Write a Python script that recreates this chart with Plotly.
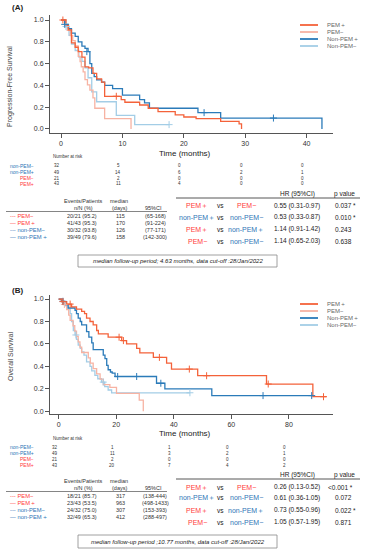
import plotly.graph_objects as go

W, H = 365, 550
def px(x): return x / W
def py(y): return 1 - y / H

FONT = "Liberation Sans, Arial, sans-serif"
C_PP = "#f4623a"   # PEM+
C_PM = "#f7b3a3"   # PEM-
C_NP = "#2b7bb9"   # non-PEM+
C_NM = "#a3cde6"   # non-PEM-
RED = "#ff3b3b"
BLUE = "#2e75b6"

# ---------------- Panel A: progression-free survival ----------------
pfs_pemp_t = [0, 0.8, 1.2, 1.7, 2.3, 2.8, 3.4, 3.9, 4.5, 5.2, 5.8, 6.6, 7.1, 9.8, 10.4, 12.8, 14.2, 15.8, 18.6, 20.0, 22.0, 26.0, 29.0, 29.4]
pfs_pemp_s = [1.0, 0.95, 0.91, 0.79, 0.75, 0.71, 0.66, 0.57, 0.56, 0.51, 0.46, 0.43, 0.30, 0.27, 0.245, 0.22, 0.19, 0.16, 0.13, 0.11, 0.095, 0.07, 0.047, 0.0]
pfs_pemm_t = [0, 0.6, 1.0, 1.5, 1.9, 2.3, 2.8, 3.1, 3.3, 3.6, 3.9, 4.3, 4.7, 5.2, 5.5, 7.1, 11.4]
pfs_pemm_s = [1.0, 0.952, 0.905, 0.857, 0.810, 0.762, 0.667, 0.619, 0.571, 0.524, 0.452, 0.405, 0.357, 0.286, 0.190, 0.095, 0.0]
pfs_npp_t = [0, 0.6, 1.2, 1.7, 2.3, 2.8, 3.4, 3.9, 4.4, 4.7, 5.0, 5.4, 5.8, 6.6, 7.1, 8.4, 10.0, 12.8, 13.6, 14.4, 22.3, 26.0, 42.5]
pfs_npp_s = [1.0, 0.96, 0.92, 0.88, 0.85, 0.80, 0.76, 0.74, 0.71, 0.60, 0.51, 0.48, 0.45, 0.43, 0.40, 0.37, 0.31, 0.27, 0.24, 0.19, 0.15, 0.10, 0.0]
pfs_npm_t = [0, 0.8, 1.3, 1.7, 2.3, 2.9, 3.4, 3.9, 4.4, 5.0, 5.8, 9.0, 12.0, 17.6]
pfs_npm_s = [1.0, 0.94, 0.86, 0.78, 0.72, 0.66, 0.62, 0.56, 0.47, 0.34, 0.25, 0.125, 0.04, 0.04]
pfs_cens_npp_t = [0.6, 4.2, 23.3, 34.6]
pfs_cens_npp_s = [0.96, 0.71, 0.15, 0.10]
pfs_cens_pemp_t = [0.3, 9.0]
pfs_cens_pemp_s = [1.0, 0.30]
pfs_cens_npm_t = [0.8, 17.6]
pfs_cens_npm_s = [0.94, 0.04]

# ---------------- Panel B: overall survival ----------------
os_pemp_t = [0, 1.0, 2.8, 4.5, 6.2, 8.0, 9.0, 9.7, 10.9, 12.0, 13.2, 13.8, 17.2, 21.9, 23.6, 27.1, 28.2, 32.9, 37.5, 39.2, 48.3, 72.2, 88.3, 93.0]
os_pemp_s = [1.0, 0.977, 0.955, 0.93, 0.91, 0.89, 0.87, 0.83, 0.80, 0.77, 0.72, 0.69, 0.66, 0.63, 0.60, 0.56, 0.52, 0.48, 0.43, 0.376, 0.317, 0.243, 0.13, 0.13]
os_pemm_t = [0, 1.5, 2.8, 3.5, 4.0, 5.0, 5.6, 6.2, 6.8, 7.4, 8.0, 10.3, 11.0, 12.0, 13.2, 14.4, 15.5, 17.8, 20.1, 28.0, 29.4]
os_pemm_s = [1.0, 0.952, 0.905, 0.857, 0.810, 0.762, 0.714, 0.667, 0.619, 0.571, 0.524, 0.476, 0.429, 0.381, 0.333, 0.286, 0.238, 0.214, 0.16, 0.10, 0.0]
os_npp_t = [0, 1.0, 2.0, 3.3, 5.7, 6.2, 6.8, 7.5, 8.0, 9.7, 10.5, 11.5, 12.0, 15.5, 16.1, 16.7, 17.2, 18.0, 18.6, 19.6, 34.0, 36.9, 53.2, 87.9]
os_npp_s = [1.0, 0.98, 0.95, 0.92, 0.90, 0.87, 0.83, 0.80, 0.77, 0.71, 0.66, 0.61, 0.55, 0.50, 0.47, 0.41, 0.37, 0.35, 0.34, 0.31, 0.25, 0.20, 0.14, 0.14]
os_npm_t = [0, 1.2, 2.5, 3.3, 4.0, 4.5, 5.1, 5.7, 6.2, 6.8, 7.5, 8.0, 8.8, 9.7, 10.9, 11.5, 12.6, 13.6, 14.9, 16.0, 17.2, 18.4, 45.6]
os_npm_s = [1.0, 0.97, 0.94, 0.91, 0.87, 0.80, 0.72, 0.68, 0.64, 0.59, 0.56, 0.53, 0.50, 0.44, 0.40, 0.36, 0.32, 0.29, 0.26, 0.22, 0.19, 0.165, 0.165]
os_cens_pemp_t = [1.5, 4.0, 21.0, 22.5, 35.0, 45.4, 51.4, 72.8, 92.0]
os_cens_pemp_s = [0.977, 0.955, 0.66, 0.63, 0.48, 0.376, 0.317, 0.243, 0.13]
os_cens_npp_t = [1.5, 20.5, 27.1, 35.5, 71.0, 87.9]
os_cens_npp_s = [0.98, 0.31, 0.31, 0.25, 0.14, 0.14]
os_cens_npm_t = [6.0, 15.5, 45.6]
os_cens_npm_s = [0.68, 0.26, 0.165]
os_cens_pemm_t = [2.0]
os_cens_pemm_s = [0.952]

# ---------------- Tables ----------------
risk_labels = ["non-PEM−", "non-PEM+", "PEM−", "PEM+"]
risk_colors = [BLUE, BLUE, RED, RED]
pfs_risk_times = [0, 10, 20, 30, 40]
pfs_risk = [[32, 5, 0, 0, 0], [49, 14, 6, 2, 1], [21, 2, 0, 0, 0], [43, 11, 4, 0, 0]]
os_risk_times = [0, 20, 40, 60, 80]
os_risk = [[32, 1, 1, 0, 0], [49, 11, 3, 2, 1], [21, 2, 0, 0, 0], [43, 20, 7, 4, 2]]

grp_labels = ["--- PEM−", "— PEM＋", "--- non-PEM−", "— non-PEM＋"]
grp_colors = [RED, RED, BLUE, BLUE]
pfs_events = ["20/21 (95.2)", "41/43 (95.3)", "30/32 (93.8)", "39/49 (79.6)"]
pfs_median = ["115", "170", "126", "158"]
pfs_ci = ["(65-168)", "(91-224)", "(77-171)", "(142-300)"]
os_events = ["18/21 (85.7)", "23/43 (53.5)", "24/32 (75.0)", "32/49 (65.3)"]
os_median = ["317", "963", "307", "412"]
os_ci = ["(138-444)", "(498-1433)", "(153-393)", "(288-497)"]

cmp_left = ["PEM＋", "non-PEM＋", "PEM＋", "PEM−"]
cmp_left_c = [RED, BLUE, RED, RED]
cmp_right = ["PEM−", "non-PEM−", "non-PEM＋", "non-PEM−"]
cmp_right_c = [RED, BLUE, BLUE, BLUE]
pfs_hr = ["0.55 (0.31-0.97)", "0.53 (0.33-0.87)", "1.14 (0.91-1.42)", "1.14 (0.65-2.03)"]
pfs_p = ["0.037 *", "0.010 *", "0.243", "0.638"]
os_hr = ["0.26 (0.13-0.52)", "0.61 (0.36-1.05)", "0.73 (0.55-0.96)", "1.05 (0.57-1.95)"]
os_p = ["<0.001 *", "0.072", "0.022 *", "0.871"]

legend_names = ["PEM＋", "PEM−", "Non-PEM＋", "Non-PEM−"]
legend_colors = [C_PP, C_PM, C_NP, C_NM]

fig = go.Figure()

def curve(t, s, c, xa, ya):
    fig.add_trace(go.Scatter(x=t, y=s, mode="lines", line=dict(color=c, width=1.3, shape="hv"),
                             xaxis=xa, yaxis=ya, showlegend=False, hoverinfo="skip"))

def cens(t, s, c, xa, ya):
    fig.add_trace(go.Scatter(x=t, y=s, mode="markers",
                             marker=dict(symbol="cross-thin", size=5, line=dict(width=1, color=c)),
                             xaxis=xa, yaxis=ya, showlegend=False, hoverinfo="skip"))

curve(pfs_npm_t, pfs_npm_s, C_NM, "x", "y")
curve(pfs_pemm_t, pfs_pemm_s, C_PM, "x", "y")
curve(pfs_npp_t, pfs_npp_s, C_NP, "x", "y")
curve(pfs_pemp_t, pfs_pemp_s, C_PP, "x", "y")
cens(pfs_cens_npm_t, pfs_cens_npm_s, C_NM, "x", "y")
cens(pfs_cens_npp_t, pfs_cens_npp_s, C_NP, "x", "y")
cens(pfs_cens_pemp_t, pfs_cens_pemp_s, C_PP, "x", "y")

curve(os_npm_t, os_npm_s, C_NM, "x2", "y2")
curve(os_pemm_t, os_pemm_s, C_PM, "x2", "y2")
curve(os_npp_t, os_npp_s, C_NP, "x2", "y2")
curve(os_pemp_t, os_pemp_s, C_PP, "x2", "y2")
cens(os_cens_npm_t, os_cens_npm_s, C_NM, "x2", "y2")
cens(os_cens_pemm_t, os_cens_pemm_s, C_PM, "x2", "y2")
cens(os_cens_npp_t, os_cens_npp_s, C_NP, "x2", "y2")
cens(os_cens_pemp_t, os_cens_pemp_s, C_PP, "x2", "y2")

ann = []
shapes = []
def T(x, y, text, size=6, color="#333", xa="center", italic=False, bold=False, angle=0, xref="paper", xshift=0):
    if bold: text = "<b>" + text + "</b>"
    if italic: text = "<i>" + text + "</i>"
    ann.append(dict(x=(x if xref != "paper" else px(x)), y=py(y), xref=xref, yref="paper", text=text,
                    showarrow=False, xanchor=xa, yanchor="middle", textangle=angle, xshift=xshift,
                    font=dict(size=size, color=color, family=FONT)))

def L(x0, y0, x1, y1, color="#555", w=1):
    shapes.append(dict(type="line", xref="paper", yref="paper", x0=px(x0), y0=py(y0), x1=px(x1), y1=py(y1),
                       line=dict(color=color, width=w)))

def panel(label, y_lab, ytitle, ytitle_y, xtitle_y, leg_y, nar_y, risk_times, risk, xref,
          ltab_y, events, median, ci, rtab_y, hr, pv, box_y, box_text, p_x):
    T(17, y_lab, "(" + label + ")", size=8, color="#222", bold=True)
    T(10, ytitle_y, ytitle, size=7, color="#444", angle=-90)
    T(185, xtitle_y, "Time (months)", size=8, color="#222")
    for i in range(4):
        yy = leg_y + i * 7
        L(300, yy, 318, yy, legend_colors[i], 1.8)
        T(325, yy, legend_names[i], size=6, color="#666", xa="left")
    T(51, nar_y, "Number at risk", size=4.5, color="#333", xa="left")
    for i in range(4):
        yy = nar_y + 9 + i * 6
        T(36, yy, risk_labels[i], size=5, color=risk_colors[i], xa="right")
        for j, tt in enumerate(risk_times):
            T(tt, yy, str(risk[i][j]), size=4.5, color="#333", xref=xref, xshift=-4)
    # left table
    h1 = ltab_y
    T(83, h1, "Events/Patients", size=5.5)
    T(83, h1 + 7, "n/N (%)", size=5.5)
    T(119, h1, "median", size=5.5)
    T(119, h1 + 7, "(days)", size=5.5)
    T(153, h1 + 7, "95%CI", size=5.5)
    L(6, h1 + 10.5, 167, h1 + 10.5, "#666", 0.8)
    for i in range(4):
        yy = h1 + 15 + i * 7
        T(8, yy, grp_labels[i], size=5.8, color=grp_colors[i], xa="left")
        T(82, yy, events[i], size=5.5)
        T(120, yy, median[i], size=5.5)
        T(155, yy, ci[i], size=5.5)
    # right table
    T(297, rtab_y[0] - 4, "HR (95%CI)", size=6.5, color="#222")
    T(344, rtab_y[0] - 4, "p value", size=6.5, color="#222")
    L(176, rtab_y[0], 360, rtab_y[0], "#444", 0.9)
    for i in range(4):
        yy = rtab_y[i + 1]
        T(197, yy, cmp_left[i], size=7, color=cmp_left_c[i])
        T(220, yy, "vs", size=6.5, color="#222")
        T(246, yy, cmp_right[i], size=7, color=cmp_right_c[i])
        T(297, yy, hr[i], size=6.5, color="#222")
        T(p_x[i], yy, pv[i], size=6.5, color="#222", xa="left")
    shapes.append(dict(type="rect", xref="paper", yref="paper", x0=px(78), x1=px(277),
                       y0=py(box_y[1]), y1=py(box_y[0]), line=dict(color="#888", width=0.8)))
    T(178, (box_y[0] + box_y[1]) / 2, box_text, size=6, color="#222", italic=True)

panel("A", 8, "Progression-Free Survival", 87, 153, 25, 157, pfs_risk_times, pfs_risk, "x",
      201, pfs_events, pfs_median, pfs_ci, [198, 206, 217, 229, 241], pfs_hr, pfs_p, (255, 267),
      "median follow-up period; 4.63 months, data cut-off :28/Jan/2022", [333, 333, 333, 333])
panel("B", 290, "Overall Survival", 357, 433, 304, 438, os_risk_times, os_risk, "x2",
      481, os_events, os_median, os_ci, [479, 487, 498, 510, 522], os_hr, os_p, (535, 548),
      "median follow-up period ;10.77 months, data cut-off :28/Jan/2022", [326, 333, 333, 333])

axis_common = dict(showline=True, linecolor="#555", linewidth=1, ticks="outside", ticklen=4,
                   tickcolor="#555", showgrid=False, zeroline=False,
                   tickfont=dict(size=7, color="#333", family=FONT))
ytv = [0, 0.2, 0.4, 0.6, 0.8, 1.0]
ytt = ["0.0", "0.2", "0.4", "0.6", "0.8", "1.0"]

fig.update_layout(
    width=W, height=H, autosize=False, margin=dict(l=0, r=0, t=0, b=0),
    paper_bgcolor="white", plot_bgcolor="white", showlegend=False,
    xaxis=dict(domain=[px(50), px(333)], range=[-1.8, 44.3], tickvals=pfs_risk_times, anchor="y", **axis_common),
    yaxis=dict(domain=[py(133), py(15)], range=[-0.037, 1.046], tickvals=ytv, ticktext=ytt, anchor="x", **axis_common),
    xaxis2=dict(domain=[px(50), px(333)], range=[-3.0, 95.3], tickvals=os_risk_times, anchor="y2", **axis_common),
    yaxis2=dict(domain=[py(414), py(295)], range=[-0.024, 1.036], tickvals=ytv, ticktext=ytt, anchor="x2", **axis_common),
    annotations=ann, shapes=shapes,
)

fig.write_html("out.html", config={"displayModeBar": False},
               post_script="document.body.style.margin='0';document.body.style.overflow='hidden';")
